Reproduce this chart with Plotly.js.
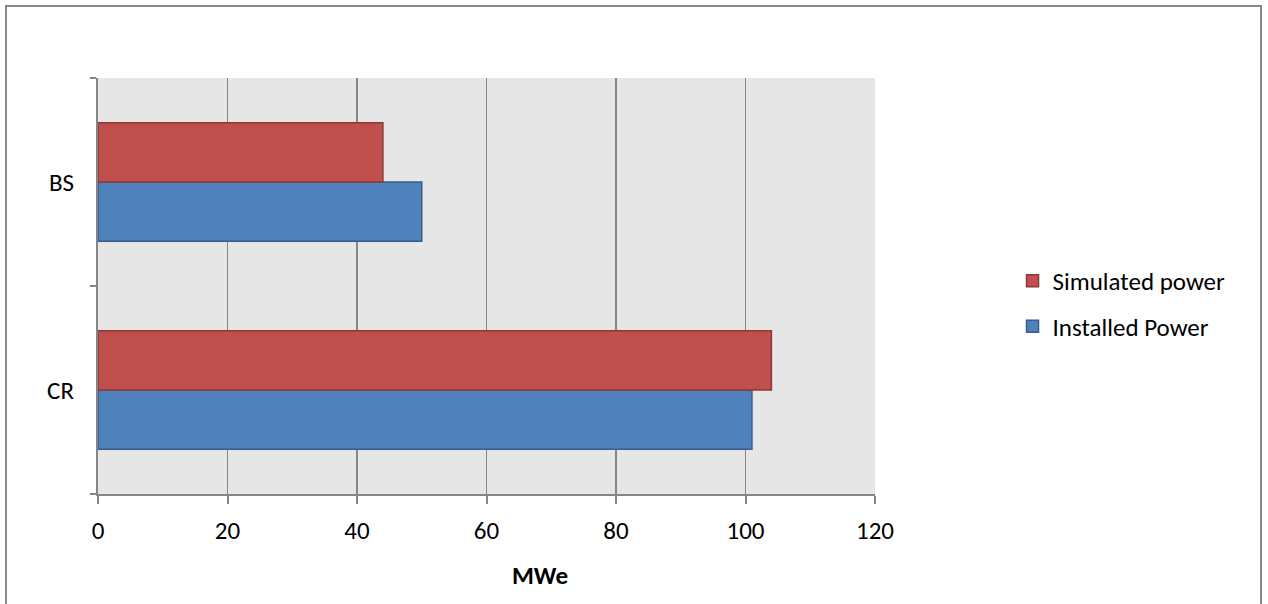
<!DOCTYPE html>
<html>
<head>
<meta charset="utf-8">
<script src="https://cdn.plot.ly/plotly-3.0.1.min.js"></script>
<style>
html,body{margin:0;padding:0;background:#fff;}
#wrap{position:relative;width:1268px;height:604px;}
#chart{width:1268px;height:604px;}
#frame{position:absolute;left:5px;top:5px;width:1257px;height:620px;border:2px solid #888;pointer-events:none;box-sizing:border-box;}
</style>
</head>
<body>
<div id="wrap"><div id="chart"></div><div id="frame"></div></div>
<script>
const categories = ["CR", "BS"];
const installedPower = [101, 50];
const simulatedPower = [104, 44];
const xTicks = [0, 20, 40, 60, 80, 100, 120];
const seriesNames = ["Installed Power", "Simulated power"];
const axisTitle = "MWe";

const FONT = "Carlito, Lato, 'Open Sans', sans-serif";
const FS = 25;

const traces = [
  {type: "bar", orientation: "h", name: seriesNames[0], y: categories, x: installedPower,
   legendgroup: "a", legendrank: 2,
   marker: {color: "#4F81BD", line: {color: "#385D8A", width: 1.5}}},
  {type: "bar", orientation: "h", name: seriesNames[1], y: categories, x: simulatedPower,
   legendgroup: "b", legendrank: 1,
   marker: {color: "#C0504D", line: {color: "#8C3836", width: 1.5}}}
];

const layout = {
  width: 1268, height: 604,
  margin: {l: 98, r: 393, t: 78, b: 110},
  paper_bgcolor: "#ffffff",
  plot_bgcolor: "#E6E6E6",
  barmode: "group",
  bargap: 0.43,
  bargroupgap: 0,
  font: {family: FONT, size: FS, color: "#000"},
  showlegend: true,
  legend: {x: 1.177, xanchor: "left", y: 0.458, yanchor: "middle",
           traceorder: "grouped", tracegroupgap: 10,
           font: {family: FONT, size: FS, color: "#000"}, bgcolor: "rgba(0,0,0,0)"},
  xaxis: {range: [0, 120], tickvals: xTicks, ticktext: xTicks.map(String),
          showgrid: true, gridcolor: "#868686", gridwidth: 1.5,
          showline: true, linecolor: "#868686", linewidth: 2,
          ticks: "outside", ticklen: 8, tickcolor: "#868686", tickwidth: 2,
          ticklabelstandoff: 5, zeroline: false, fixedrange: true},
  yaxis: {type: "category", categoryorder: "array", categoryarray: categories,
          showgrid: false, showline: true, linecolor: "#868686", linewidth: 2,
          ticks: "outside", ticklen: 6, tickcolor: "#868686", tickwidth: 2,
          tickson: "boundaries", ticklabelstandoff: 17, zeroline: false, fixedrange: true},
  annotations: [{text: "<b>" + axisTitle + "</b>", xref: "paper", yref: "paper",
                 x: 0.569, y: -0.196, xanchor: "center", yanchor: "middle",
                 showarrow: false, font: {family: FONT, size: FS, color: "#000"}}]
};

Plotly.newPlot("chart", traces, layout, {displayModeBar: false, staticPlot: true});
</script>
</body>
</html>
